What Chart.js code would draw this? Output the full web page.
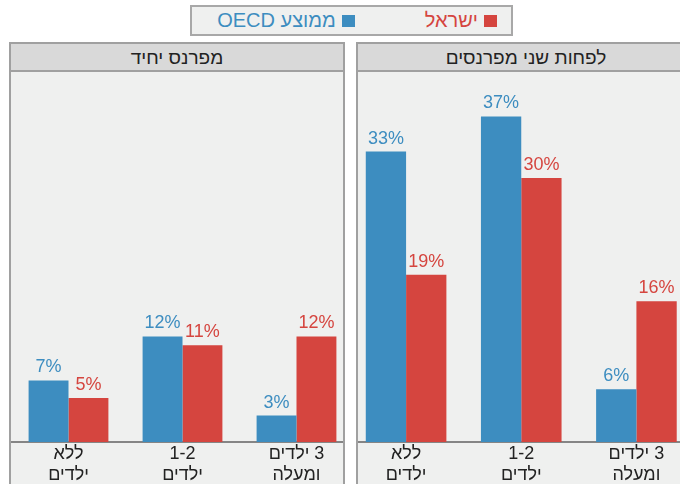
<!DOCTYPE html>
<html lang="he">
<head>
<meta charset="utf-8">
<script src="https://cdn.jsdelivr.net/npm/chart.js@4"></script>
<style>
  html, body { margin: 0; padding: 0; background: #fff; }
  body { width: 680px; height: 484px; position: relative; overflow: hidden;
         font-family: "Liberation Sans", Arial, sans-serif; }
  .legend { position: absolute; left: 190px; top: 5px; width: 305px; height: 27px;
            background: #eff0ef; border: 2px solid #a8a8a8; direction: rtl; white-space: nowrap;
            display: flex; align-items: center; padding: 0 14px 0 0; box-sizing: content-box; }
  .legend span.item { display: inline-flex; flex-shrink: 0; align-items: center; font-size: 20px;
                      margin-left: 70px; white-space: nowrap; }
  .legend span.box { display: inline-block; width: 13px; height: 12px; margin-left: 6px; }
  .panel { position: absolute; top: 42px; height: 460px; background: #eff0ef;
           border: 2px solid #a0a0a0; box-sizing: border-box; overflow: hidden; }
  .panel .head { height: 26px; background: #d9d9d9; border-bottom: 2px solid #a0a0a0;
                 text-align: center; font-size: 19px; line-height: 28px; color: #222; direction: rtl; }
  .panel canvas { position: absolute; top: 26px; }
</style>
</head>
<body>
<div class="legend" id="legend"></div>

<div class="panel" id="pLeft" style="left:9px; width:336px;">
  <div class="head">מפרנס יחיד</div>
  <canvas id="chartLeft" width="360" height="414" dir="rtl" style="left:0"></canvas>
</div>
<div class="panel" id="pRight" style="left:356px; width:340px;">
  <div class="head">לפחות שני מפרנסים</div>
  <canvas id="chartRight" width="360" height="414" dir="rtl" style="left:-10px"></canvas>
</div>

<script>
const categories = [['ללא', 'ילדים'], ['1-2', 'ילדים'], ['3 ילדים', 'ומעלה']];
const seriesNames = ['ממוצע OECD', 'ישראל'];
const seriesColors = ['#3d8dc0', '#d5453f'];

// מפרנס יחיד
const oecdSingle = [7, 12, 3];
const israelSingle = [5, 11, 12];
// לפחות שני מפרנסים
const oecdDual = [33, 37, 6];
const israelDual = [19, 30, 16];

const FONT = '"Liberation Sans", Arial, sans-serif';

// legend (RTL: ישראל first)
const legend = document.getElementById('legend');
[1, 0].forEach(i => {
  const item = document.createElement('span');
  item.className = 'item';
  item.style.color = seriesColors[i];
  item.innerHTML = '<span class="box" style="background:' + seriesColors[i] + '"></span>' + seriesNames[i];
  legend.appendChild(item);
});

const valueLabels = {
  id: 'valueLabels',
  afterDatasetsDraw(chart) {
    const ctx = chart.ctx;
    ctx.save();
    ctx.font = '18px ' + FONT;
    ctx.textAlign = 'center';
    ctx.textBaseline = 'alphabetic';
    ctx.direction = 'ltr';
    chart.data.datasets.forEach((ds, di) => {
      chart.getDatasetMeta(di).data.forEach((bar, i) => {
        ctx.fillStyle = ds.backgroundColor;
        ctx.fillText(ds.data[i] + '%', bar.x, bar.y - 8);
      });
    });
    ctx.restore();
  }
};

function makeChart(id, oecd, israel, padLeft, padRight) {
  return new Chart(document.getElementById(id), {
    type: 'bar',
    data: {
      labels: categories,
      datasets: [
        { label: seriesNames[0], data: oecd, backgroundColor: seriesColors[0] },
        { label: seriesNames[1], data: israel, backgroundColor: seriesColors[1] }
      ]
    },
    options: {
      responsive: false,
      animation: false,
      layout: { padding: { top: 20, left: padLeft, right: padRight, bottom: 0 } },
      datasets: { bar: { categoryPercentage: 0.7, barPercentage: 1 } },
      plugins: { legend: { display: false }, tooltip: { enabled: false } },
      scales: {
        x: {
          grid: { display: false, drawTicks: false },
          border: { display: true, color: '#858585', width: 2 },
          ticks: { color: '#222', padding: 2, maxRotation: 0, autoSkip: false,
                   font: { family: FONT, size: 18, lineHeight: 1.15 } },
          afterFit: s => { s.height = 42; }
        },
        y: { display: false, min: 0, max: 40 }
      }
    },
    plugins: [valueLabels]
  });
}

// canvas left edge sits at page x = 11 (left panel) and x = 348 (right panel)
makeChart('chartLeft', oecdSingle, israelSingle, 0.5, 17.5);
makeChart('chartRight', oecdDual, israelDual, 0.5, 14);
</script>
</body>
</html>
